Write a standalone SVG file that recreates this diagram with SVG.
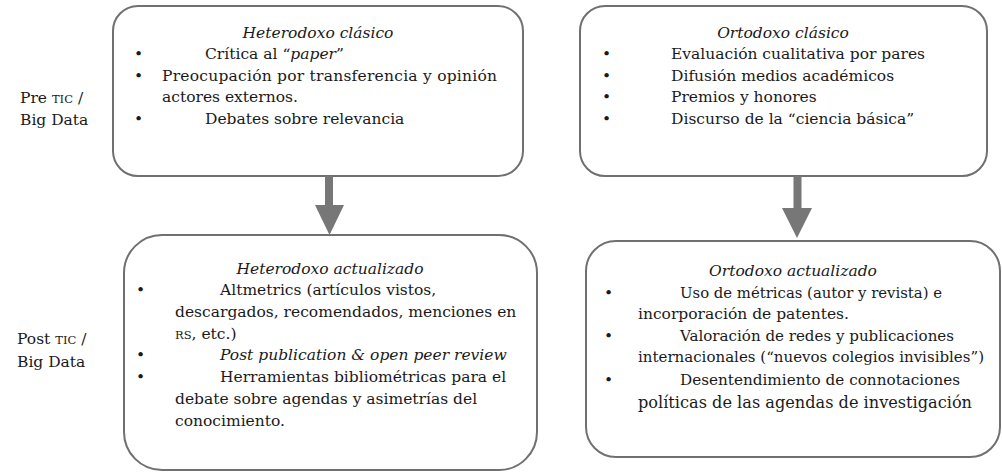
<svg xmlns="http://www.w3.org/2000/svg" width="1002" height="474" viewBox="0 0 1002 474">
<style>
.box{fill:#fff;stroke:#707070;stroke-width:2}
.t{font-family:"DejaVu Serif","Liberation Serif",serif;font-size:15.5px;fill:#1a1a1a}
.it{font-style:italic}
.sc{font-size:11.5px}
.big{font-size:17.5px}
.arrow{fill:#777}
</style>
<rect width="1002" height="474" fill="#fff"/>
<g id="label-pre">
<text class="t" x="20" y="103">Pre <tspan class="sc">TIC</tspan> /</text>
<text class="t" x="20" y="125">Big Data</text>
</g>
<g id="label-post">
<text class="t" x="17" y="344">Post <tspan class="sc">TIC</tspan> /</text>
<text class="t" x="17" y="367">Big Data</text>
</g>
<g id="node-heterodoxo-clasico">
<rect class="box" x="113" y="6" width="410" height="170" rx="25"/>
<text class="t it" x="318" y="38" text-anchor="middle">Heterodoxo clásico</text>
<text class="t" x="134" y="59">•</text>
<text class="t" x="205" y="59">Crítica al “<tspan class="it">paper</tspan>”</text>
<text class="t" x="134" y="81">•</text>
<text class="t" x="162" y="81" textLength="335" lengthAdjust="spacing">Preocupación por transferencia y opinión</text>
<text class="t" x="162" y="102">actores externos.</text>
<text class="t" x="134" y="124">•</text>
<text class="t" x="205" y="124">Debates sobre relevancia</text>
</g>
<g id="node-ortodoxo-clasico">
<rect class="box" x="580" y="6" width="407" height="170" rx="25"/>
<text class="t it" x="783" y="38" text-anchor="middle">Ortodoxo clásico</text>
<text class="t" x="602" y="59">•</text>
<text class="t" x="671" y="59">Evaluación cualitativa por pares</text>
<text class="t" x="602" y="81">•</text>
<text class="t" x="671" y="81">Difusión medios académicos</text>
<text class="t" x="602" y="102">•</text>
<text class="t" x="671" y="102">Premios y honores</text>
<text class="t" x="602" y="124">•</text>
<text class="t" x="671" y="124">Discurso de la “ciencia básica”</text>
</g>
<g id="node-heterodoxo-actualizado">
<rect class="box" x="124" y="235" width="413" height="235" rx="38"/>
<text class="t it" x="330" y="274" text-anchor="middle">Heterodoxo actualizado</text>
<text class="t" x="136" y="295">•</text>
<text class="t" x="220" y="295">Altmetrics (artículos vistos,</text>
<text class="t" x="175" y="317">descargados, recomendados, menciones en</text>
<text class="t" x="175" y="339"><tspan class="sc">RS</tspan>, etc.)</text>
<text class="t" x="136" y="360">•</text>
<text class="t it" x="220" y="360">Post publication &amp; open peer review</text>
<text class="t" x="136" y="382">•</text>
<text class="t" x="220" y="382">Herramientas bibliométricas para el</text>
<text class="t" x="175" y="404">debate sobre agendas y asimetrías del</text>
<text class="t" x="175" y="426">conocimiento.</text>
</g>
<g id="node-ortodoxo-actualizado">
<rect class="box" x="586" y="241" width="414" height="216" rx="30"/>
<text class="t it" x="793" y="276" text-anchor="middle">Ortodoxo actualizado</text>
<text class="t" x="604" y="298">•</text>
<text class="t" x="680" y="298" textLength="262" lengthAdjust="spacingAndGlyphs">Uso de métricas (autor y revista) e</text>
<text class="t" x="638" y="319">incorporación de patentes.</text>
<text class="t" x="604" y="341">•</text>
<text class="t" x="680" y="341" textLength="274" lengthAdjust="spacingAndGlyphs">Valoración de redes y publicaciones</text>
<text class="t" x="638" y="362" textLength="346" lengthAdjust="spacingAndGlyphs">internacionales (“nuevos colegios invisibles”)</text>
<text class="t" x="604" y="385">•</text>
<text class="t" x="680" y="385" textLength="280" lengthAdjust="spacingAndGlyphs">Desentendimiento de connotaciones</text>
<text class="t big" x="638" y="408" textLength="334" lengthAdjust="spacingAndGlyphs">políticas de las agendas de investigación</text>
</g>
<g id="connectors">
<polygon class="arrow" points="325,176 333,176 333,205 344,205 329.5,235 315,205 325,205"/>
<polygon class="arrow" points="793.5,176 801.5,176 801.5,208 812,208 797,238 782,208 793.5,208"/>
</g>
</svg>
